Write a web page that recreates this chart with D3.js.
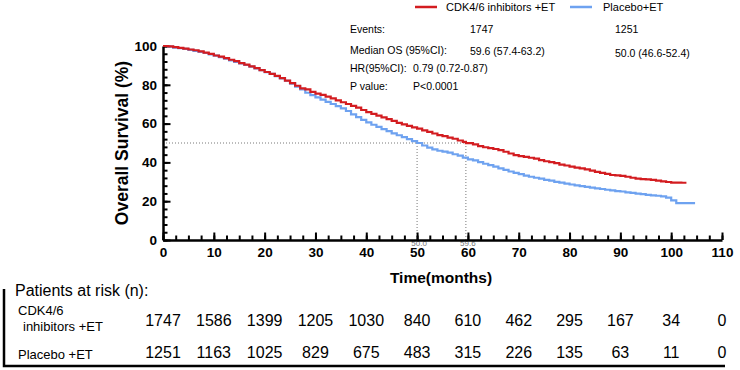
<!DOCTYPE html>
<html>
<head>
<meta charset="utf-8">
<script src="https://cdn.jsdelivr.net/npm/d3@7"></script>
<style>
  body { margin: 0; background: #fff; }
  svg { display: block; font-family: Arial, "Liberation Sans", sans-serif; }
</style>
</head>
<body>
<div id="chart"></div>
<script>
// survival data (months, % alive)
const cdkMonths = [0, 1, 2, 3, 4, 5, 6, 7, 8, 9, 10, 11, 12, 13, 14, 15, 16, 17, 18, 19, 20, 21, 22, 23, 24, 25, 26, 27, 28, 29, 30, 31, 32, 33, 34, 35, 36, 37, 38, 39, 40, 41, 42, 43, 44, 45, 46, 47, 48, 49, 50, 51, 52, 53, 54, 55, 56, 57, 58, 59, 59.6, 61, 62, 63, 64, 65, 66, 67, 68, 69, 70, 71, 72, 73, 74, 75, 76, 77, 78, 79, 80, 81, 82, 83, 84, 85, 86, 87, 88, 89, 90, 91, 92, 93, 94, 95, 96, 97, 98, 99, 100, 101, 102, 103];
const cdkSurv = [100, 99.8, 99.4, 99.0, 98.6, 98.2, 97.8, 97.2, 96.6, 95.9, 95.1, 94.5, 93.7, 92.9, 92.2, 91.2, 90.4, 89.5, 88.6, 87.6, 86.6, 85.6, 84.6, 83.4, 82.2, 80.9, 79.5, 78.2, 77.6, 76.4, 75.4, 74.8, 73.9, 73.0, 72.0, 71.0, 70.1, 69.1, 68.2, 67.0, 65.9, 65.0, 64.1, 63.2, 62.3, 61.4, 60.4, 59.6, 58.8, 58.1, 57.4, 56.5, 55.7, 54.9, 54.1, 53.5, 52.8, 52.2, 51.3, 50.6, 49.9, 49.3, 48.4, 47.8, 47.4, 46.9, 46.3, 45.5, 44.6, 43.8, 43.2, 42.8, 42.4, 41.9, 41.2, 40.6, 40.1, 39.6, 38.9, 38.4, 37.8, 37.3, 36.9, 36.4, 35.8, 35.1, 34.6, 34.1, 33.5, 33.3, 33.1, 32.6, 32.1, 31.6, 31.4, 31.2, 31.0, 30.6, 30.2, 29.9, 29.6, 29.6, 29.5, 29.5];

const plcMonths = [0, 1, 2, 3, 4, 5, 6, 7, 8, 9, 10, 11, 12, 13, 14, 15, 16, 17, 18, 19, 20, 21, 22, 23, 24, 25, 26, 27, 28, 29, 30, 31, 32, 33, 34, 35, 36, 37, 38, 39, 40, 41, 42, 43, 44, 45, 46, 47, 48, 49, 50, 51, 52, 53, 54, 55, 56, 57, 58, 59, 60, 61, 62, 63, 64, 65, 66, 67, 68, 69, 70, 71, 72, 73, 74, 75, 76, 77, 78, 79, 80, 81, 82, 83, 84, 85, 86, 87, 88, 89, 90, 91, 92, 93, 94, 95, 96, 97, 98, 99, 100, 101, 104.7];
const plcSurv = [100, 99.7, 99.2, 98.9, 98.5, 98.0, 97.5, 97.0, 96.4, 95.7, 95.0, 94.3, 93.5, 92.6, 91.8, 91.0, 90.2, 89.4, 88.5, 87.5, 86.5, 85.6, 84.5, 83.3, 82.1, 80.6, 79.1, 77.6, 75.9, 74.7, 73.5, 72.4, 71.2, 70.1, 69.0, 67.8, 66.5, 64.8, 63.3, 61.9, 60.6, 59.4, 58.3, 57.2, 56.1, 55.0, 54.0, 53.0, 52.0, 51.0, 50.0, 48.7, 47.6, 46.7, 46.0, 45.6, 45.0, 44.2, 43.5, 42.5, 41.6, 41.0, 40.1, 39.3, 38.6, 37.8, 36.9, 36.1, 35.3, 34.6, 34.0, 33.2, 32.6, 32.1, 31.6, 31.0, 30.6, 30.0, 29.6, 29.1, 28.6, 28.2, 27.8, 27.4, 27.0, 26.6, 26.3, 25.9, 25.6, 25.2, 25.0, 24.6, 24.3, 23.9, 23.6, 23.3, 23.0, 22.8, 22.5, 21.8, 20.4, 19.0, 19.0];

const xTicks = [0, 10, 20, 30, 40, 50, 60, 70, 80, 90, 100, 110];
const yTicks = [0, 20, 40, 60, 80, 100];
const medians = [50.0, 59.6];

const seriesNames = ["CDK4/6 inhibitors +ET", "Placebo+ET"];
const statLabels = ["Events:", "Median OS (95%CI):", "HR(95%CI):", "P value:"];
const cdkStats = ["1747", "59.6 (57.4-63.2)", "0.79 (0.72-0.87)", "P<0.0001"];
const plcStats = ["1251", "50.0 (46.6-52.4)"];

const riskCdk = [1747, 1586, 1399, 1205, 1030, 840, 610, 462, 295, 167, 34, 0];
const riskPlc = [1251, 1163, 1025, 829, 675, 483, 315, 226, 135, 63, 11, 0];

const red = "#d31c20";
const blue = "#6ea2f0";

const W = 740, H = 370;
const svg = d3.select("#chart").append("svg")
  .attr("width", W)
  .attr("height", H);

const x = d3.scaleLinear().domain([0, 110]).range([163, 722]);
const y = d3.scaleLinear().domain([0, 100]).range([240, 46]);

// minor ticks
svg.append("g")
  .attr("transform", "translate(0,240)")
  .call(d3.axisBottom(x).tickValues(d3.range(0, 110.1, 2.5)).tickSize(-4.5).tickFormat(""))
  .call(g => g.select(".domain").remove())
  .call(g => g.selectAll("line").attr("stroke", "#000").attr("stroke-width", 2));
svg.append("g")
  .attr("transform", "translate(163,0)")
  .call(d3.axisLeft(y).tickValues(d3.range(0, 100.1, 4)).tickSize(-4.5).tickFormat(""))
  .call(g => g.select(".domain").remove())
  .call(g => g.selectAll("line").attr("stroke", "#000").attr("stroke-width", 2));

// median reference lines (drawn under the axes)
svg.append("line")
  .attr("x1", x(0)).attr("x2", x(medians[1]))
  .attr("y1", y(50)).attr("y2", y(50))
  .attr("stroke", "#555").attr("stroke-width", 0.8).attr("stroke-dasharray", "1,2");
svg.selectAll(".med-v")
  .data(medians)
  .enter()
  .append("line")
  .attr("class", "med-v")
  .attr("x1", d => x(d)).attr("x2", d => x(d))
  .attr("y1", y(50)).attr("y2", y(0))
  .attr("stroke", "#555").attr("stroke-width", 0.8).attr("stroke-dasharray", "1,2");
svg.selectAll(".med-label")
  .data(medians)
  .enter()
  .append("text")
  .attr("class", "med-label")
  .attr("x", d => x(d) + 2)
  .attr("y", 246)
  .attr("text-anchor", "middle")
  .attr("font-size", 8)
  .attr("fill", "#777")
  .text(d => d.toFixed(1));

// major axes
const xAxis = svg.append("g")
  .attr("transform", "translate(0,240)")
  .call(d3.axisBottom(x).tickValues(xTicks).tickSize(-7.5).tickSizeOuter(0).tickPadding(7));
const yAxis = svg.append("g")
  .attr("transform", "translate(163,0)")
  .call(d3.axisLeft(y).tickValues(yTicks).tickSize(-7.5).tickSizeOuter(0).tickPadding(6));

[xAxis, yAxis].forEach(g => {
  g.select(".domain").attr("stroke", "#000").attr("stroke-width", 2.5);
  g.selectAll("line").attr("stroke", "#000").attr("stroke-width", 2);
  g.selectAll("text")
    .attr("fill", "#000")
    .attr("font-size", 13.5)
    .attr("font-weight", "bold")
    .attr("font-family", "Arial, 'Liberation Sans', sans-serif");
});

// survival curves
const line = d3.line()
  .x(d => x(d[0]))
  .y(d => y(d[1]))
  .curve(d3.curveStepAfter);

svg.append("path")
  .datum(d3.zip(plcMonths, plcSurv))
  .attr("fill", "none")
  .attr("stroke", blue)
  .attr("stroke-width", 2.2)
  .attr("d", line);

svg.append("path")
  .datum(d3.zip(cdkMonths, cdkSurv))
  .attr("fill", "none")
  .attr("stroke", red)
  .attr("stroke-width", 2.2)
  .attr("d", line);

// axis titles
svg.append("text")
  .attr("transform", "translate(128,143) rotate(-90)")
  .attr("text-anchor", "middle")
  .attr("font-size", 17.5)
  .attr("font-weight", "bold")
  .text("Overall Survival (%)");

svg.append("text")
  .attr("x", 441)
  .attr("y", 283)
  .attr("text-anchor", "middle")
  .attr("font-size", 15.5)
  .attr("font-weight", "bold")
  .text("Time(months)");

// legend
const legend = svg.append("g").attr("font-size", 11);
[[415, red, 446], [570, blue, 603]].forEach((l, i) => {
  legend.append("line")
    .attr("x1", l[0]).attr("x2", l[0] + 22)
    .attr("y1", 7).attr("y2", 7)
    .attr("stroke", l[1]).attr("stroke-width", 2.5);
  legend.append("text")
    .attr("x", l[2]).attr("y", 11)
    .text(seriesNames[i]);
});

// stats block
const statY = [29, 50, 68, 86];
svg.selectAll(".stat-label")
  .data(statLabels)
  .enter()
  .append("text")
  .attr("class", "stat-label")
  .attr("x", 350)
  .attr("y", (d, i) => statY[i] + 4)
  .attr("font-size", 10.5)
  .text(d => d);
svg.selectAll(".stat-cdk")
  .data(cdkStats)
  .enter()
  .append("text")
  .attr("class", "stat-cdk")
  .attr("x", (d, i) => i < 2 ? 470 : 413)
  .attr("y", (d, i) => statY[i] + 4 + (i === 1 ? 1 : 0))
  .attr("font-size", 10.5)
  .text(d => d);
svg.selectAll(".stat-plc")
  .data(plcStats)
  .enter()
  .append("text")
  .attr("class", "stat-plc")
  .attr("x", 615)
  .attr("y", (d, i) => statY[i] + 4 + (i === 1 ? 3 : 0))
  .attr("font-size", 10.5)
  .text(d => d);

// patients at risk table
svg.append("path")
  .attr("d", "M4,289 V366 H725")
  .attr("fill", "none")
  .attr("stroke", "#000")
  .attr("stroke-width", 2.5);

svg.append("text")
  .attr("x", 15)
  .attr("y", 296)
  .attr("font-size", 16)
  .text("Patients at risk (n):");

svg.append("text")
  .attr("x", 18).attr("y", 315)
  .attr("font-size", 13)
  .text("CDK4/6");
svg.append("text")
  .attr("x", 23).attr("y", 331)
  .attr("font-size", 13)
  .text("inhibitors +ET");
svg.append("text")
  .attr("x", 18).attr("y", 359)
  .attr("font-size", 13)
  .text("Placebo +ET");

[[riskCdk, 326], [riskPlc, 358]].forEach(r => {
  svg.append("g").selectAll("text")
    .data(r[0])
    .enter()
    .append("text")
    .attr("x", (d, i) => x(xTicks[i]))
    .attr("y", r[1])
    .attr("text-anchor", "middle")
    .attr("font-size", 16)
    .text(d => d);
});
</script>
</body>
</html>
